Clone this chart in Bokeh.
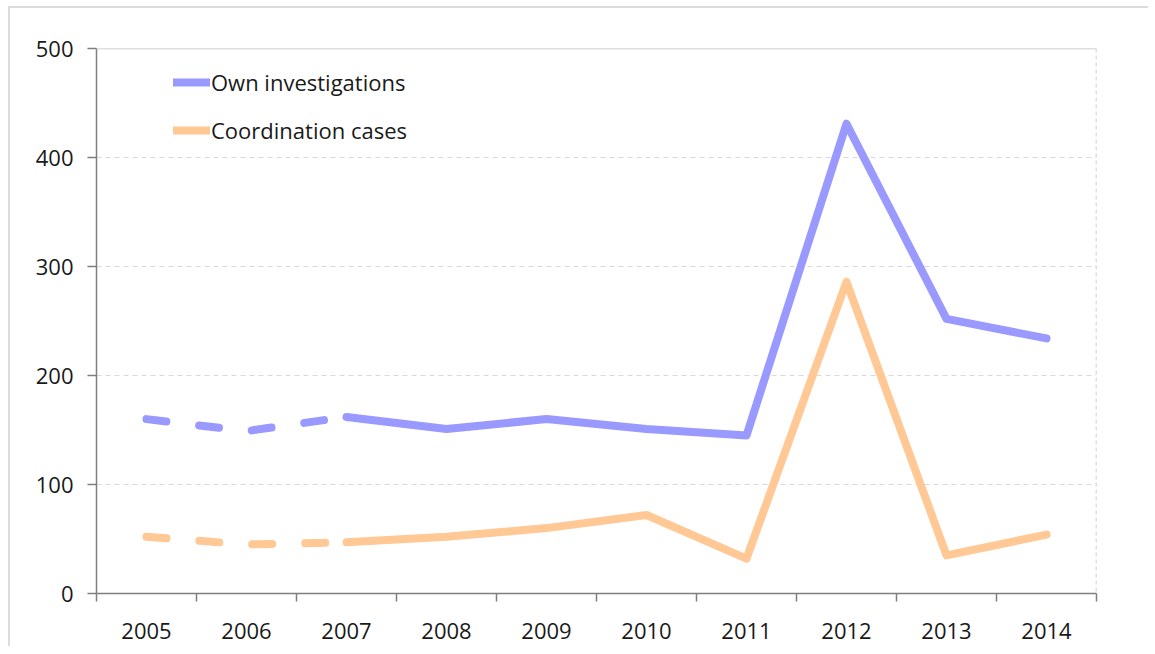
from bokeh.plotting import figure
from bokeh.models import (Range1d, LinearAxis, CategoricalAxis, FixedTicker,
                          Span, Legend, LegendItem, CustomLabelingPolicy)
from bokeh.embed import file_html
from bokeh.resources import INLINE

years = ["2005", "2006", "2007", "2008", "2009", "2010", "2011", "2012", "2013", "2014"]
own_investigations = [160, 149, 162, 151, 160, 151, 145, 431, 252, 234]
coordination_cases = [52, 45, 47, 52, 60, 72, 32, 286, 35, 54]
estimated_until = "2007"  # dashed segment up to this year
y_ticks = [0, 100, 200, 300, 400, 500]

BLUE = "#9999ff"
ORANGE = "#ffc894"
FONT = "Open Sans"
FS = "22px"

k = years.index(estimated_until) + 1

p = figure(width=1140, height=640, x_range=years, y_range=Range1d(0, 500),
           output_backend="svg", toolbar_location=None, x_axis_location=None,
           min_border_left=86, min_border_top=40, min_border_right=54,
           min_border_bottom=55)
p.outline_line_color = None
p.styles = {"border-left": "2px solid #dcdcdc", "border-top": "2px solid #dcdcdc",
            "margin-left": "8px", "margin-top": "6px"}

# y axis
yax = p.yaxis[0]
yax.ticker = FixedTicker(ticks=y_ticks)
yax.axis_line_color = "#7f7f7f"
yax.axis_line_width = 1.5
yax.major_tick_line_color = "#7f7f7f"
yax.major_tick_line_width = 1.5
yax.major_tick_out = 9
yax.major_tick_in = 0
yax.minor_tick_line_color = None
yax.major_label_standoff = 14
yax.major_label_text_font = FONT
yax.major_label_text_font_size = FS
yax.major_label_text_color = "#1a1a1a"

p.ygrid.ticker = FixedTicker(ticks=y_ticks[1:-1])
p.ygrid.grid_line_color = "#d9d9d9"
p.ygrid.grid_line_dash = "5 4"
p.ygrid.grid_line_width = 1.2
p.xgrid.grid_line_color = None

# boundary ticks on the x axis (category edges in the factor range's own coordinates)
no_labels = CustomLabelingPolicy(code="""
    for (const i of Array.from(indices)) { indices.unset(i) }
    return indices
""")
bax = LinearAxis(ticker=FixedTicker(ticks=list(range(len(years) + 1))),
                 major_label_policy=no_labels)
bax.axis_line_color = "#7f7f7f"
bax.axis_line_width = 1.5
bax.major_tick_line_color = "#7f7f7f"
bax.major_tick_line_width = 1.5
bax.major_tick_out = 8
bax.major_tick_in = 0
bax.minor_tick_line_color = None
bax.major_label_text_font_size = "1px"
bax.major_label_standoff = 0
p.add_layout(bax, "below")

cax = CategoricalAxis()
cax.axis_line_color = None
cax.major_tick_line_color = None
cax.major_tick_out = 0
cax.major_label_standoff = 17
cax.major_label_text_font = FONT
cax.major_label_text_font_size = FS
cax.major_label_text_color = "#1a1a1a"
p.add_layout(cax, "below")

# frame lines
p.add_layout(Span(location=500, dimension="width", line_color="#bfbfbf", line_width=1.5))
p.add_layout(Span(location=len(years), dimension="height",
                  line_color="#bfbfbf", line_width=1.5, line_dash="4 3"))

common = dict(line_width=8, line_cap="round", line_join="round")
d1 = p.line(years[:k], own_investigations[:k], line_color=BLUE, line_dash="20 33", **common)
d2 = p.line(years[:k], coordination_cases[:k], line_color=ORANGE, line_dash="20 33", **common)
s1 = p.line(years[k - 1:], own_investigations[k - 1:], line_color=BLUE, **common)
s2 = p.line(years[k - 1:], coordination_cases[k - 1:], line_color=ORANGE, **common)

legend = Legend(items=[LegendItem(label="Own investigations", renderers=[s1]),
                       LegendItem(label="Coordination cases", renderers=[s2])],
                location=(77, 448))
legend.border_line_color = None
legend.background_fill_alpha = 0
legend.padding = 0
legend.margin = 0
legend.spacing = 18
legend.glyph_width = 37
legend.glyph_height = 30
legend.label_height = 30
legend.label_standoff = 1
legend.label_text_font = FONT
legend.label_text_font_size = FS
legend.label_text_color = "#1a1a1a"
p.add_layout(legend)

open("out.html", "w").write(file_html(p, INLINE))
